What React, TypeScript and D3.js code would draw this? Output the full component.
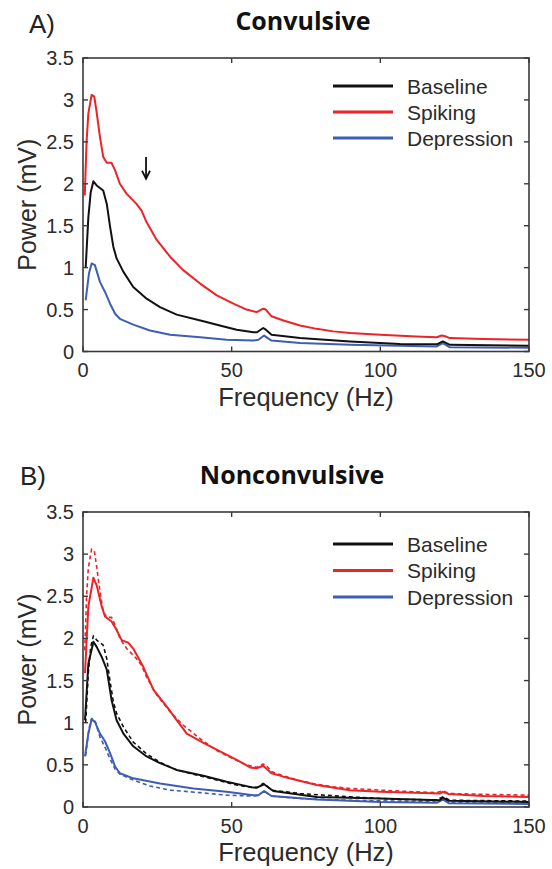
import React from "react";
import * as d3 from "d3";

// ---------- DATA ----------
const seriesNames = ["Baseline", "Spiking", "Depression"];
const xTicks = [0, 50, 100, 150];
const yTicks = [0, 0.5, 1, 1.5, 2, 2.5, 3, 3.5];
const yTickLabels = ["0", "0.5", "1", "1.5", "2", "2.5", "3", "3.5"];

// Convulsive (panel A solid; panel B dashed)
const convSpikingFreq = [0.6, 1.2, 1.8, 2.9, 3.8, 4.6, 5.7, 6.8, 8.0, 9.6, 10.8, 12.4, 14.7, 18.0, 19.7, 21.4, 24.8, 29.3, 33.7, 39.4, 45.0, 50.6, 55.0, 58.4, 60.6, 61.5, 63.4, 67.4, 73, 78.6, 84.2, 89.8, 100, 112, 119, 120.6, 121.5, 123.4, 134.6, 150];
const convSpikingPower = [1.86, 2.5, 2.84, 3.06, 3.04, 2.85, 2.56, 2.32, 2.25, 2.25, 2.16, 2.0, 1.88, 1.76, 1.68, 1.54, 1.33, 1.13, 0.97, 0.81, 0.67, 0.57, 0.5, 0.47, 0.51, 0.5, 0.42, 0.37, 0.31, 0.27, 0.24, 0.22, 0.2, 0.18, 0.17, 0.19, 0.185, 0.16, 0.15, 0.14];

const convBaselineFreq = [0.9, 1.8, 2.6, 3.5, 4.6, 6.8, 8.0, 9.1, 10.2, 11.3, 13.6, 16.9, 21.4, 25.9, 31.5, 40.5, 46, 51.7, 57.3, 58.5, 60.6, 61.5, 63.4, 73, 89.8, 106.6, 119, 121, 123.4, 150];
const convBaselinePower = [1.0, 1.6, 1.9, 2.03, 1.98, 1.92, 1.76, 1.49, 1.25, 1.11, 0.95, 0.77, 0.63, 0.53, 0.44, 0.36, 0.31, 0.26, 0.23, 0.23, 0.28, 0.26, 0.2, 0.16, 0.12, 0.09, 0.085, 0.12, 0.08, 0.07];

const convDepressionFreq = [0.9, 2.0, 2.9, 4.0, 5.7, 7.4, 9.1, 10.8, 12.4, 16.9, 22.5, 29.3, 39.4, 48.3, 57.3, 59, 60.9, 63.4, 73, 89.8, 119, 121, 123.4, 150];
const convDepressionPower = [0.61, 0.93, 1.05, 1.03, 0.83, 0.71, 0.57, 0.45, 0.39, 0.32, 0.25, 0.2, 0.17, 0.14, 0.13, 0.14, 0.19, 0.13, 0.1, 0.08, 0.06, 0.1, 0.05, 0.045];

// Nonconvulsive (panel B solid)
const nonSpikingFreq = [0.67, 1.8, 3.5, 4.6, 6.3, 7.4, 9.6, 11.3, 13.0, 15.2, 16.9, 20.3, 23.7, 28.2, 31.5, 34.9, 40.5, 46.1, 51.7, 56.2, 58.4, 60.6, 63.4, 67.4, 78.6, 89.8, 100, 120, 121, 123, 134.6, 150];
const nonSpikingPower = [1.59, 2.38, 2.72, 2.63, 2.38, 2.26, 2.2, 2.1, 1.98, 1.95, 1.88, 1.66, 1.39, 1.19, 1.03, 0.87, 0.76, 0.66, 0.56, 0.47, 0.46, 0.49, 0.4, 0.36, 0.26, 0.2, 0.18, 0.16, 0.18, 0.155, 0.13, 0.12];

const nonBaselineFreq = [0.67, 1.8, 3.5, 4.6, 6.3, 8.0, 9.6, 11.3, 13.6, 16.9, 21.4, 25.9, 31.5, 40.5, 48.3, 57.3, 58.5, 60.9, 64, 78.6, 100, 120, 121, 123, 150];
const nonBaselinePower = [1.03, 1.7, 1.96, 1.9, 1.78, 1.63, 1.27, 1.03, 0.87, 0.72, 0.6, 0.52, 0.44, 0.37, 0.3, 0.23, 0.23, 0.27, 0.19, 0.12, 0.1, 0.08, 0.11, 0.075, 0.06];

const nonDepressionFreq = [0.67, 1.8, 2.9, 4.0, 5.7, 7.4, 9.1, 10.8, 12.4, 16.9, 25.9, 37.1, 48.3, 57.3, 59, 60.9, 63.4, 78.6, 100, 119, 121, 123, 150];
const nonDepressionPower = [0.6, 0.87, 1.04, 1.01, 0.87, 0.78, 0.64, 0.48, 0.4, 0.34, 0.28, 0.22, 0.18, 0.14, 0.14, 0.19, 0.13, 0.09, 0.06, 0.05, 0.09, 0.045, 0.035];

// ---------- STYLE ----------
const colors = { Baseline: "#111111", Spiking: "#ec2327", Depression: "#3e5db4" };
const axisColor = "#3a3a3a";
const textColor = "#2b2b2b";
const tickFont = "'Liberation Sans', Arial, sans-serif";

type Series = { name: string; freq: number[]; power: number[]; dashed?: boolean };

const zip = (f: number[], p: number[]) => f.map((x, i) => [x, p[i]] as [number, number]);

function Panel(props: {
  top: number;
  bottom: number;
  left: number;
  right: number;
  title: string;
  titleX: number;
  titleY: number;
  letter: string;
  letterX: number;
  letterY: number;
  legendY: number[];
  series: Series[];
  arrow?: { f: number; p0: number; p1: number };
}) {
  const { top, bottom, left, right } = props;
  const x = d3.scaleLinear().domain([0, 150]).range([left, right]);
  const y = d3.scaleLinear().domain([0, 3.5]).range([bottom, top]);
  const line = d3
    .line<[number, number]>()
    .x((d) => x(d[0]))
    .y((d) => y(d[1]))
    .curve(d3.curveLinear);
  const tickLen = 5;
  return (
    <g>
      <text x={props.letterX} y={props.letterY} fontFamily={tickFont} fontSize={26} fill="#222">
        {props.letter}
      </text>
      <text
        x={props.titleX}
        y={props.titleY}
        textAnchor="middle"
        fontFamily="'Open Sans', sans-serif"
        fontWeight="bold"
        fontSize={25}
        fill="#111"
      >
        {props.title}
      </text>
      {props.series.map((s, i) => (
        <path
          key={i}
          d={line(zip(s.freq, s.power)) || ""}
          fill="none"
          stroke={(colors as any)[s.name]}
          strokeWidth={s.dashed ? 1.6 : 2}
          strokeDasharray={s.dashed ? "4 3" : undefined}
          strokeLinejoin="round"
        />
      ))}
      <rect x={left} y={top} width={right - left} height={bottom - top} fill="none" stroke={axisColor} strokeWidth={1.6} />
      {xTicks.map((t) => (
        <g key={"x" + t}>
          <line x1={x(t)} x2={x(t)} y1={bottom} y2={bottom - tickLen} stroke={axisColor} strokeWidth={1.4} />
          <line x1={x(t)} x2={x(t)} y1={top} y2={top + tickLen} stroke={axisColor} strokeWidth={1.4} />
          <text
            x={x(t)}
            y={bottom + 25.5}
            textAnchor="middle"
            fontFamily={tickFont}
            fontSize={20}
            fill={textColor}
          >
            {t}
          </text>
        </g>
      ))}
      {yTicks.map((t, i) => (
        <g key={"y" + t}>
          <line x1={left} x2={left + tickLen} y1={y(t)} y2={y(t)} stroke={axisColor} strokeWidth={1.4} />
          <line x1={right} x2={right - tickLen} y1={y(t)} y2={y(t)} stroke={axisColor} strokeWidth={1.4} />
          <text
            x={left - 9}
            y={y(t)}
            dy="0.35em"
            textAnchor="end"
            fontFamily={tickFont}
            fontSize={20}
            fill={textColor}
          >
            {yTickLabels[i]}
          </text>
        </g>
      ))}
      <text
        x={(left + right) / 2}
        y={bottom + 54}
        textAnchor="middle"
        fontFamily={tickFont}
        fontSize={25.5}
        fill={textColor}
      >
        Frequency (Hz)
      </text>
      <text
        transform={`translate(36,${(top + bottom) / 2}) rotate(-90)`}
        textAnchor="middle"
        fontFamily={tickFont}
        fontSize={25}
        fill={textColor}
      >
        Power (mV)
      </text>
      {seriesNames.map((n, i) => (
        <g key={"l" + n}>
          <line x1={333} x2={393} y1={props.legendY[i]} y2={props.legendY[i]} stroke={(colors as any)[n]} strokeWidth={3} />
          <text
            x={407}
            y={props.legendY[i]}
            dy="0.36em"
            fontFamily={tickFont}
            fontSize={21}
            fill={textColor}
          >
            {n}
          </text>
        </g>
      ))}
      {props.arrow && (
        <g stroke="#111" strokeWidth={1.8} fill="none">
          <line x1={x(props.arrow.f)} x2={x(props.arrow.f)} y1={y(props.arrow.p0)} y2={y(props.arrow.p1)} />
          <path
            d={`M${x(props.arrow.f) - 4},${y(props.arrow.p1) - 8} L${x(props.arrow.f)},${y(props.arrow.p1)} L${x(
              props.arrow.f
            ) + 4},${y(props.arrow.p1) - 8}`}
          />
        </g>
      )}
    </g>
  );
}

export default function App() {
  const convSeries: Series[] = [
    { name: "Depression", freq: convDepressionFreq, power: convDepressionPower },
    { name: "Baseline", freq: convBaselineFreq, power: convBaselinePower },
    { name: "Spiking", freq: convSpikingFreq, power: convSpikingPower },
  ];
  const nonSeries: Series[] = [
    { name: "Depression", freq: convDepressionFreq, power: convDepressionPower, dashed: true },
    { name: "Baseline", freq: convBaselineFreq, power: convBaselinePower, dashed: true },
    { name: "Spiking", freq: convSpikingFreq, power: convSpikingPower, dashed: true },
    { name: "Depression", freq: nonDepressionFreq, power: nonDepressionPower },
    { name: "Baseline", freq: nonBaselineFreq, power: nonBaselinePower },
    { name: "Spiking", freq: nonSpikingFreq, power: nonSpikingPower },
  ];
  return (
    <svg
      width={552}
      height={869}
      style={{ position: "absolute", left: 0, top: 0, background: "#fff" }}
    >
      <rect x={0} y={0} width={552} height={869} fill="#fff" />
      <Panel
        top={58}
        bottom={351.5}
        left={83}
        right={529}
        title="Convulsive"
        titleX={303}
        titleY={30}
        letter="A)"
        letterX={29}
        letterY={33}
        legendY={[86, 112, 138]}
        series={convSeries}
        arrow={{ f: 21.2, p0: 2.32, p1: 2.06 }}
      />
      <Panel
        top={512}
        bottom={807}
        left={83}
        right={529}
        title="Nonconvulsive"
        titleX={292}
        titleY={484}
        letter="B)"
        letterX={20}
        letterY={485}
        legendY={[544, 570.5, 597]}
        series={nonSeries}
      />
    </svg>
  );
}
